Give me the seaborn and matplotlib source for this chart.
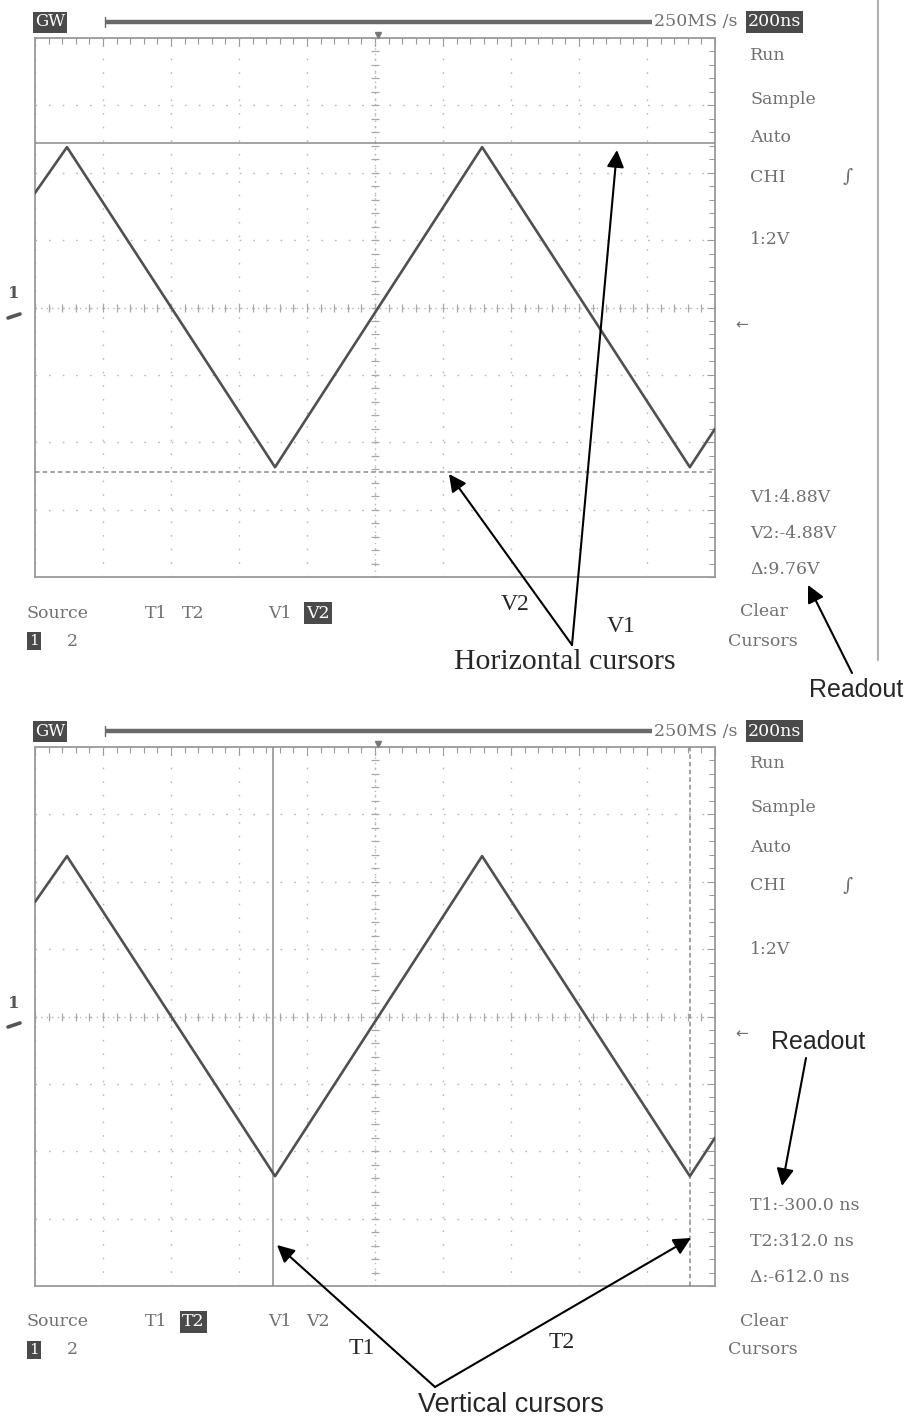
import matplotlib
matplotlib.use("Agg")
import matplotlib.pyplot as plt
import numpy as np
import pandas as pd
import seaborn as sns

# waveform vertices (time in ns, amplitude in V)
wave_time_ns = [-1000, -906, -294, 315, 926, 1000]
wave_volts = [3.4, 4.76, -4.74, 4.76, -4.74, -3.6]

v_cursor_volts = [4.88, -4.88]      # V1, V2 (top capture)
t_cursor_ns = [-300, 926]           # T1, T2 (bottom capture)

menu_items = ["Run", "Sample", "Auto", "CHI", "1:2V"]
readout_top = ["V1:4.88V", "V2:-4.88V", "\u0394:9.76V"]
readout_bottom = ["T1:-300.0 ns", "T2:312.0 ns", "\u0394:-612.0 ns"]

W, H = 909, 1422
BOX_X0, BOX_X1 = 35, 715
BOX_H = 539
SCREEN_TOPS = [38, 747]

GRID_C = "#b8b8b8"
FRAME_C = "#9a9a9a"
TRACE_C = "#505050"
UI_C = "#707070"
UI_FONT = "DejaVu Serif"
UI_SIZE = 12.5

sns.set_theme(style="white")
plt.rcParams["font.family"] = ["DejaVu Sans"]

wave = pd.DataFrame({"time_ns": wave_time_ns, "volts": wave_volts})

fig = plt.figure(figsize=(W / 100, H / 100), dpi=100)
fig.patch.set_facecolor("white")

canvas = fig.add_axes([0, 0, 1, 1], zorder=5)
canvas.set_xlim(0, W)
canvas.set_ylim(H, 0)
canvas.axis("off")
canvas.patch.set_alpha(0)


def add_screen(top):
    ax = fig.add_axes([BOX_X0 / W, 1 - (top + BOX_H) / H,
                       (BOX_X1 - BOX_X0) / W, BOX_H / H])
    ax.set_xlim(-1000, 1000)
    ax.set_ylim(-8, 8)
    ax.set_xticks(np.arange(-1000, 1001, 200))
    ax.set_yticks(np.arange(-8, 8.1, 2))
    ax.set_xticks(np.arange(-1000, 1001, 40), minor=True)
    ax.set_yticks(np.arange(-8, 8.1, 0.4), minor=True)
    ax.tick_params(which="both", direction="in", top=True, right=True,
                   labelbottom=False, labelleft=False, color=FRAME_C)
    ax.tick_params(which="major", length=6, width=0.8)
    ax.tick_params(which="minor", length=4, width=0.8)
    ax.grid(which="major", color=GRID_C, linestyle=(0, (1.2, 8.6)), linewidth=1.0)
    for sp in ax.spines.values():
        sp.set_color(FRAME_C)
        sp.set_linewidth(1.3)

    # centre graticule with its small ticks
    minor_x = np.arange(-1000, 1001, 40)
    minor_y = np.arange(-8, 8.1, 0.4)
    ax.axhline(0, color=GRID_C, linestyle=(0, (1, 3)), linewidth=1.0)
    ax.axvline(0, color=GRID_C, linestyle=(0, (1, 3)), linewidth=1.0)
    ax.plot(minor_x, np.zeros_like(minor_x), linestyle="none", marker="|",
            markersize=6, color="#a8a8a8", markeredgewidth=0.9)
    ax.plot(np.zeros_like(minor_y), minor_y, linestyle="none", marker="_",
            markersize=6, color="#a8a8a8", markeredgewidth=0.9)

    sns.lineplot(data=wave, x="time_ns", y="volts", ax=ax, color=TRACE_C,
                 linewidth=1.9, zorder=4)
    ax.set_xlabel("")
    ax.set_ylabel("")
    return ax


def screen_ui(top, readouts, sel_t, sel_v):
    hl = dict(boxstyle="square,pad=0.12", fc="#4a4a4a", ec="none")
    # record bar
    canvas.text(BOX_X0, top - 16, "GW", fontsize=12, color="white", family=UI_FONT,
                va="center", ha="left", bbox=hl)
    canvas.plot([105, 652], [top - 16, top - 16], color="#6a6a6a", linewidth=3.2,
                solid_capstyle="butt")
    canvas.plot([105, 105], [top - 21, top - 11], color="#6a6a6a", linewidth=1)
    canvas.plot([378], [top - 3], marker="v", markersize=4, color="#777777")
    canvas.text(654, top - 16, "250MS /s", fontsize=12.5, color=UI_C, family=UI_FONT,
                va="center", ha="left")
    canvas.text(748, top - 16, "200ns", fontsize=12.5, color="white", family=UI_FONT,
                va="center", ha="left", bbox=hl)

    menu_y = [17, 61, 100, 139, 202]
    for label, dy in zip(menu_items, menu_y):
        canvas.text(750, top + dy, label, fontsize=UI_SIZE, color=UI_C,
                    family=UI_FONT, va="center", ha="left")
    canvas.text(848, top + 139, "\u222b", fontsize=14, color=UI_C, family=UI_FONT,
                va="center", ha="center")
    canvas.text(742, top + 287, "\u2190", fontsize=11, color=UI_C,
                va="center", ha="center")

    # channel 1 marker on the left
    canvas.text(14, top + 256, "1", fontsize=12, color="#555555", family=UI_FONT,
                va="center", ha="center", weight="bold")
    canvas.plot([8, 20], [top + 280, top + 276], color="#555555", linewidth=2.6)

    for txt, dy in zip(readouts, [459, 495, 531]):
        canvas.text(750, top + dy, txt, fontsize=UI_SIZE, color=UI_C,
                    family=UI_FONT, va="center", ha="left")
    canvas.text(740, top + 574, "Clear", fontsize=UI_SIZE, color=UI_C,
                family=UI_FONT, va="center", ha="left")
    canvas.text(728, top + 603, "Cursors", fontsize=UI_SIZE, color=UI_C,
                family=UI_FONT, va="center", ha="left")

    canvas.text(27, top + 575, "Source", fontsize=UI_SIZE, color=UI_C,
                family=UI_FONT, va="center", ha="left")
    canvas.text(29, top + 603, "1", fontsize=11, color="white", family=UI_FONT,
                va="center", ha="left", bbox=hl)
    canvas.text(67, top + 603, "2", fontsize=UI_SIZE, color=UI_C, family=UI_FONT,
                va="center", ha="left")

    canvas.text(145, top + 575, "T1", fontsize=UI_SIZE, color=UI_C, family=UI_FONT,
                va="center", ha="left")
    canvas.text(182, top + 575, "T2", fontsize=UI_SIZE,
                color="white" if sel_t else UI_C, family=UI_FONT,
                va="center", ha="left", bbox=hl if sel_t else None)
    canvas.text(268, top + 575, "V1", fontsize=UI_SIZE, color=UI_C, family=UI_FONT,
                va="center", ha="left")
    canvas.text(306, top + 575, "V2", fontsize=UI_SIZE,
                color="white" if sel_v else UI_C, family=UI_FONT,
                va="center", ha="left", bbox=hl if sel_v else None)


# top capture: horizontal cursors
ax_top = add_screen(SCREEN_TOPS[0])
ax_top.axhline(v_cursor_volts[0], color="#8a8a8a", linewidth=1.1, zorder=3)
ax_top.axhline(v_cursor_volts[1], color="#8a8a8a", linewidth=1.1,
               linestyle=(0, (3, 2)), zorder=3)
screen_ui(SCREEN_TOPS[0], readout_top, sel_t=False, sel_v=True)
canvas.plot([878, 878], [0, 660], color="#b0b0b0", linewidth=1.5)

# bottom capture: vertical cursors
ax_bot = add_screen(SCREEN_TOPS[1])
ax_bot.axvline(t_cursor_ns[0], color="#8a8a8a", linewidth=1.1, zorder=3)
ax_bot.axvline(t_cursor_ns[1], color="#8a8a8a", linewidth=1.1,
               linestyle=(0, (3, 2)), zorder=3)
screen_ui(SCREEN_TOPS[1], readout_bottom, sel_t=True, sel_v=False)

# annotations
arrow = dict(arrowstyle="-|>", color="black", lw=1.5, mutation_scale=26,
             shrinkA=0, shrinkB=0)
serif = "Liberation Serif"
sans = "Liberation Sans"

canvas.annotate("", xy=(449, 474), xytext=(572, 645), arrowprops=arrow)
canvas.annotate("", xy=(617, 150), xytext=(572, 645), arrowprops=arrow)
canvas.text(515, 605, "V2", fontsize=17, family=serif, ha="center", va="center")
canvas.text(621, 627, "V1", fontsize=17, family=serif, ha="center", va="center")
canvas.text(565, 662, "Horizontal cursors", fontsize=21.5, family=serif,
            ha="center", va="center")
canvas.annotate("", xy=(808, 585), xytext=(852, 673), arrowprops=arrow)
canvas.text(856, 690, "Readout", fontsize=18, family=sans, ha="center", va="center")

canvas.text(818, 1042, "Readout", fontsize=18, family=sans, ha="center", va="center")
canvas.annotate("", xy=(782, 1186), xytext=(806, 1058), arrowprops=arrow)
canvas.annotate("", xy=(277, 1245), xytext=(435, 1387), arrowprops=arrow)
canvas.annotate("", xy=(691, 1238), xytext=(435, 1387), arrowprops=arrow)
canvas.text(362, 1349, "T1", fontsize=17, family=serif, ha="center", va="center")
canvas.text(562, 1342, "T2", fontsize=17, family=serif, ha="center", va="center")
canvas.text(511, 1405, "Vertical cursors", fontsize=19.5, family=sans,
            ha="center", va="center")

fig.savefig("out.png", dpi=100, facecolor="white")
